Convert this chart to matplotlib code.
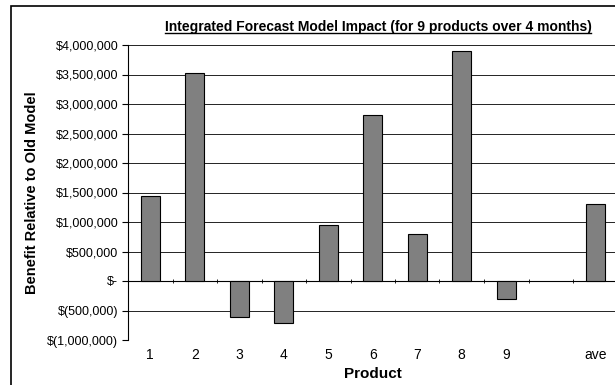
import numpy as np
import matplotlib.pyplot as plt
from matplotlib.ticker import FuncFormatter, FixedLocator
from matplotlib.patches import Rectangle

plt.rcParams['font.family'] = ['Liberation Sans', 'DejaVu Sans']

products = ['1', '2', '3', '4', '5', '6', '7', '8', '9', '', 'ave']
benefit = [1440000, 3525000, -615000, -720000, 950000, 2810000, 800000, 3900000, -300000, np.nan, 1310000]


def money(v, pos):
    if v == 0:
        return '$-'
    if v < 0:
        return '$({:,.0f})'.format(-v)
    return '${:,.0f}'.format(v)


fig = plt.figure(figsize=(6.15, 3.85), dpi=100)
# chart border
fig.patches.append(Rectangle((11 / 615, -0.05), 1.0, 1 - 6 / 385 + 0.05, transform=fig.transFigure,
                             fill=False, edgecolor='black', linewidth=1.2))

ax = fig.add_axes([128 / 615, 1 - 340 / 385, 489.5 / 615, 295 / 385])
x = np.arange(len(products))
ax.bar(x, benefit, width=0.42, color='#808080', edgecolor='black', linewidth=0.8, zorder=3)

ax.set_xlim(-0.5, len(products) - 0.5)
ax.set_ylim(-1000000, 4000000)
ax.set_yticks(np.arange(-1000000, 4000001, 500000))
ax.yaxis.set_major_formatter(FuncFormatter(money))
ax.tick_params(axis='y', labelsize=9, length=4, width=0.8, pad=3, direction='out')
ax.grid(axis='y', color='black', linewidth=0.6, zorder=0)

for s in ['top', 'right']:
    ax.spines[s].set_visible(False)
ax.spines['left'].set_linewidth(0.8)
ax.spines['bottom'].set_position(('data', 0))
ax.spines['bottom'].set_linewidth(0.8)
ax.set_xticks([])
ax.xaxis.set_minor_locator(FixedLocator(np.arange(-0.5, len(products), 1.0)))
ax.tick_params(axis='x', which='minor', direction='inout', length=3, width=0.6)

# category labels sit at the bottom of the plot
sec = ax.secondary_xaxis(0)
sec.set_xticks(x)
sec.set_xticklabels(products)
sec.tick_params(length=0, labelsize=10, pad=6)
sec.spines['bottom'].set_visible(False)
sec.set_xlabel('Product', fontsize=11, fontweight='bold', labelpad=3)

ax.set_ylabel('Benefit Relative to Old Model', fontsize=10.5, fontweight='bold')
ax.yaxis.set_label_coords(-0.182, 0.5)

title = fig.text(378 / 615, 1 - 30.5 / 385, 'Integrated Forecast Model Impact (for 9 products over 4 months)',
                 ha='center', va='baseline', fontsize=10, fontweight='bold')
# underline the title
fig.canvas.draw()
bb = title.get_window_extent().transformed(fig.transFigure.inverted())
fig.add_artist(plt.Line2D([bb.x0, bb.x1], [1 - 33 / 385] * 2, color='black', linewidth=1.0))

fig.savefig('out.png', dpi=100)
